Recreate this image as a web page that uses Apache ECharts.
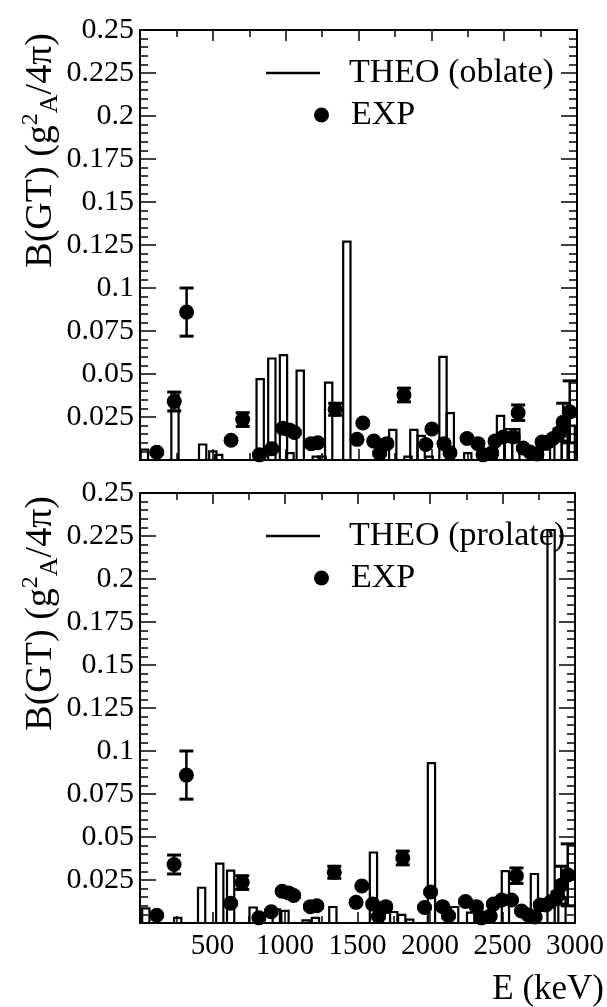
<!DOCTYPE html>
<html>
<head>
<meta charset="utf-8">
<script src="https://cdn.jsdelivr.net/npm/echarts@6/dist/echarts.min.js"></script>
<style>
  html, body { margin: 0; padding: 0; background: #fff; }
  #chart { width: 607px; height: 1007px; }
</style>
</head>
<body>
<div id="chart"></div>
<script>
// experimental points, shared by both panels
const expE   = [115, 235, 320, 625, 705, 820, 905, 980, 1025, 1060, 1175, 1220, 1340, 1490, 1530, 1605, 1645, 1695, 1812,
                1962, 2004, 2087, 2128, 2245, 2320, 2355, 2415, 2437, 2494, 2562, 2596, 2631, 2677, 2725, 2760, 2800,
                2835, 2880, 2905, 2950];
const expB   = [0.0045, 0.034, 0.086, 0.0115, 0.0235, 0.003, 0.0065, 0.0185, 0.0175, 0.016, 0.0095, 0.010, 0.0295, 0.012,
                0.0215, 0.011, 0.0038, 0.0095, 0.0378, 0.009, 0.018, 0.0095, 0.0042, 0.0125, 0.0095, 0.003, 0.004, 0.011,
                0.0134, 0.0134, 0.0275, 0.007, 0.0047, 0.0035, 0.0105, 0.0105, 0.0125, 0.016, 0.022, 0.028];
const expErr = [0.001, 0.0055, 0.014, 0.001, 0.004, 0.001, 0.001, 0.001, 0.001, 0.001, 0.001, 0.001, 0.0035, 0.001,
                0.001, 0.001, 0.001, 0.001, 0.004, 0.001, 0.001, 0.001, 0.001, 0.001, 0.001, 0.001, 0.001, 0.001,
                0.001, 0.001, 0.0045, 0.001, 0.001, 0.001, 0.001, 0.001, 0.001, 0.002, 0.011, 0.018];

// theory, oblate shape (top panel)
const oblateE = [30, 240, 430, 500, 540, 825, 905, 985, 1030, 1100, 1210, 1250, 1295, 1420, 1735, 1840, 1880, 1930,
                 1985, 2080, 2130, 2250, 2475, 2530, 2580, 2790, 2870, 2920, 2960];
const oblateB = [0.006, 0.038, 0.009, 0.005, 0.003, 0.047, 0.059, 0.061, 0.004, 0.052, 0.002, 0.002, 0.045, 0.127,
                 0.0175, 0.002, 0.0175, 0.014, 0.002, 0.060, 0.0273, 0.004, 0.0256, 0.018, 0.018, 0.006, 0.015,
                 0.018, 0.020];

// theory, prolate shape (bottom panel)
const prolateE = [40, 260, 425, 550, 625, 780, 940, 1000, 1145, 1210, 1330, 1610, 1750, 1805, 1860, 2010, 2170,
                  2280, 2520, 2720, 2835, 2910];
const prolateB = [0.0085, 0.003, 0.0205, 0.0345, 0.0305, 0.009, 0.008, 0.007, 0.0015, 0.003, 0.0093, 0.041, 0.0064,
                  0.0047, 0.002, 0.093, 0.0093, 0.006, 0.0302, 0.0285, 0.2285, 0.015];

const xTicks = [500, 1000, 1500, 2000, 2500, 3000];

const BIN = 50; // keV, width of a theory bin
const FONT = 'Liberation Serif';

const expData = expE.map((e, i) => [e, expB[i], expErr[i]]);
const oblateData = oblateE.map((e, i) => [e, oblateB[i]]);
const prolateData = prolateE.map((e, i) => [e, prolateB[i]]);

function renderBar(params, api) {
  const e = api.value(0), b = api.value(1);
  const p0 = api.coord([e - BIN / 2, b]);
  const p1 = api.coord([e + BIN / 2, 0]);
  return {
    type: 'rect',
    shape: { x: p0[0], y: p0[1], width: p1[0] - p0[0], height: p1[1] - p0[1] },
    style: { fill: 'none', stroke: '#000', lineWidth: 2.2 }
  };
}

function renderErr(params, api) {
  const e = api.value(0), b = api.value(1), s = api.value(2);
  const hi = api.coord([e, b + s]);
  const lo = api.coord([e, Math.max(b - s, 0)]);
  const hw = 7;
  const st = { stroke: '#000', lineWidth: 2.5 };
  return {
    type: 'group',
    children: [
      { type: 'line', shape: { x1: hi[0], y1: hi[1], x2: lo[0], y2: lo[1] }, style: st },
      { type: 'line', shape: { x1: hi[0] - hw, y1: hi[1], x2: hi[0] + hw, y2: hi[1] }, style: { stroke: '#000', lineWidth: 3 } },
      { type: 'line', shape: { x1: lo[0] - hw, y1: lo[1], x2: lo[0] + hw, y2: lo[1] }, style: { stroke: '#000', lineWidth: 3 } }
    ]
  };
}

function xAxisOf(grid, pos, labels) {
  return {
    type: 'value', gridIndex: grid, position: pos, min: 0, max: 3000, interval: 500,
    axisLine: { onZero: false, lineStyle: { color: '#000', width: 2 } },
    axisTick: { inside: true, length: 11, lineStyle: { color: '#000', width: 1.5 } },
    minorTick: { show: true, splitNumber: 2, length: 7, lineStyle: { color: '#000', width: 1.5 } },
    splitLine: { show: false },
    axisLabel: labels ? {
      show: true, color: '#000', fontFamily: FONT, fontSize: 29, margin: 9,
      formatter: v => (xTicks.indexOf(v) >= 0 ? String(v) : '')
    } : { show: false }
  };
}

function yAxisOf(grid, pos, labels) {
  return {
    type: 'value', gridIndex: grid, position: pos, min: 0, max: 0.25, interval: 0.025,
    axisLine: { onZero: false, lineStyle: { color: '#000', width: 2 } },
    axisTick: { inside: true, length: 16, lineStyle: { color: '#000', width: 1.5 } },
    minorTick: { show: true, splitNumber: 5, length: 8, lineStyle: { color: '#000', width: 1.5 } },
    splitLine: { show: false },
    axisLabel: labels ? {
      show: true, color: '#000', fontFamily: FONT, fontSize: 30, margin: 6, showMinLabel: false,
      formatter: v => (v === 0 ? '' : String(+v.toFixed(3)))
    } : { show: false }
  };
}

function legendOf(name, icon, left, top, w, h, pad) {
  return {
    data: [{ name: name, icon: icon }],
    left: left, top: top, padding: 0, itemWidth: w, itemHeight: h,
    selectedMode: false,
    textStyle: { color: '#000', fontFamily: FONT, fontSize: 34, lineHeight: 38, padding: [0, 0, 0, pad] }
  };
}

function yTitle(y) {
  return {
    type: 'text', x: 41, y: y, rotation: Math.PI / 2,
    style: {
      text: 'B(GT) (g{sup|2}{sub|A}/4π)',
      textAlign: 'right', textVerticalAlign: 'middle',
      fontFamily: FONT, fontSize: 38, fill: '#000', lineHeight: 44,
      rich: {
        sup: { fontFamily: FONT, fontSize: 24, verticalAlign: 'top', lineHeight: 44 },
        sub: { fontFamily: FONT, fontSize: 26, verticalAlign: 'bottom', lineHeight: 40 }
      }
    }
  };
}

const chart = echarts.init(document.getElementById('chart'));
chart.setOption({
  backgroundColor: '#fff',
  animation: false,
  grid: [
    { left: 140, right: 30, top: 30, height: 430 },
    { left: 140, right: 30, top: 493, height: 430 }
  ],
  xAxis: [xAxisOf(0, 'bottom', false), xAxisOf(0, 'top', false), xAxisOf(1, 'bottom', true), xAxisOf(1, 'top', false)],
  yAxis: [yAxisOf(0, 'left', true), yAxisOf(0, 'right', false), yAxisOf(1, 'left', true), yAxisOf(1, 'right', false)],
  legend: [
    legendOf('THEO (oblate)', 'path://M0,0H54V2.5H0Z', 266, 54, 54, 3, 24),
    legendOf('EXP', 'circle', 314, 96, 15, 15, 17),
    legendOf('THEO (prolate)', 'path://M0,0H54V2.5H0Z', 266, 517, 54, 3, 24),
    legendOf('EXP', 'circle', 314, 559, 15, 15, 17)
  ],
  graphic: [
    yTitle(33),
    yTitle(496),
    {
      type: 'text', x: 604, y: 990,
      style: { text: 'E (keV)', textAlign: 'right', textVerticalAlign: 'middle', fontFamily: FONT, fontSize: 35, fill: '#000' }
    }
  ],
  series: [
    { name: 'THEO (oblate)', type: 'custom', xAxisIndex: 0, yAxisIndex: 0, renderItem: renderBar,
      itemStyle: { color: '#000' }, data: oblateData, z: 2 },
    { name: 'EXP', type: 'custom', xAxisIndex: 0, yAxisIndex: 0, renderItem: renderErr,
      itemStyle: { color: '#000' }, data: expData, z: 3 },
    { name: 'EXP', type: 'scatter', xAxisIndex: 0, yAxisIndex: 0, symbol: 'circle', symbolSize: 15,
      itemStyle: { color: '#000', opacity: 1 }, data: expData, z: 4 },
    { name: 'THEO (prolate)', type: 'custom', xAxisIndex: 2, yAxisIndex: 2, renderItem: renderBar,
      itemStyle: { color: '#000' }, data: prolateData, z: 2 },
    { name: 'EXP', type: 'custom', xAxisIndex: 2, yAxisIndex: 2, renderItem: renderErr,
      itemStyle: { color: '#000' }, data: expData, z: 3 },
    { name: 'EXP', type: 'scatter', xAxisIndex: 2, yAxisIndex: 2, symbol: 'circle', symbolSize: 15,
      itemStyle: { color: '#000', opacity: 1 }, data: expData, z: 4 }
  ]
});
</script>
</body>
</html>
